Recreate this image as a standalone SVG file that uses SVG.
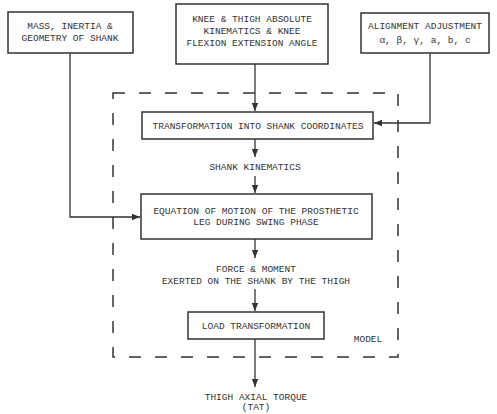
<svg xmlns="http://www.w3.org/2000/svg" width="497" height="414" viewBox="0 0 497 414">
<defs>
<marker id="ah" markerWidth="8" markerHeight="8" refX="8" refY="4" orient="auto" markerUnits="userSpaceOnUse"><path d="M0,0.8 L8,4 L0,7.2 Z" fill="#333"/></marker>
<style>
.box{fill:#fff;stroke:#333;stroke-width:1.5}
.t{font-family:"Liberation Mono","DejaVu Sans Mono",monospace;font-size:9.5px;fill:#333;text-anchor:middle}
.c{fill:none;stroke:#333;stroke-width:1.3}
.d{fill:none;stroke:#333;stroke-width:1.5;stroke-dasharray:12 14}
</style>
</defs>
<rect width="497" height="414" fill="#fff"/>
<g id="model-boundary">
<path class="d" d="M113,93 H398 V357 H113 Z"/>
<text class="t" x="368" y="342">MODEL</text>
</g>
<g id="connectors">
<path class="c" d="M70,53 V217 H140" marker-end="url(#ah)"/>
<path class="c" d="M255,64 V111" marker-end="url(#ah)"/>
<path class="c" d="M430,53 V123 H374" marker-end="url(#ah)"/>
<path class="c" d="M255,139 V157" marker-end="url(#ah)"/>
<path class="c" d="M255,176 V193" marker-end="url(#ah)"/>
<path class="c" d="M255,239 V258" marker-end="url(#ah)"/>
<path class="c" d="M255,289 V311" marker-end="url(#ah)"/>
<path class="c" d="M255,339 V387" marker-end="url(#ah)"/>
</g>
<g id="mass">
<rect class="box" x="8" y="12" width="125" height="41"/>
<text class="t" x="70" y="29">MASS, INERTIA &amp;</text>
<text class="t" x="70" y="41">GEOMETRY OF SHANK</text>
</g>
<g id="knee">
<rect class="box" x="176" y="4" width="152" height="60"/>
<text class="t" x="252" y="22">KNEE &amp; THIGH ABSOLUTE</text>
<text class="t" x="252" y="34">KINEMATICS &amp; KNEE</text>
<text class="t" x="252" y="46">FLEXION EXTENSION ANGLE</text>
</g>
<g id="alignment">
<rect class="box" x="361" y="13" width="128" height="40"/>
<text class="t" x="425" y="29">ALIGNMENT ADJUSTMENT</text>
<text class="t" x="425" y="43">α, β, γ, a, b, c</text>
</g>
<g id="transformation">
<rect class="box" x="142" y="112" width="231" height="27"/>
<text class="t" x="258" y="129">TRANSFORMATION INTO SHANK COORDINATES</text>
</g>
<g id="shank-kinematics">
<text class="t" x="255" y="170">SHANK KINEMATICS</text>
</g>
<g id="equation">
<rect class="box" x="141" y="194" width="231" height="45"/>
<text class="t" x="256" y="214">EQUATION OF MOTION OF THE PROSTHETIC</text>
<text class="t" x="256" y="225">LEG DURING SWING PHASE</text>
</g>
<g id="force-moment">
<text class="t" x="256" y="272">FORCE &amp; MOMENT</text>
<text class="t" x="256" y="284">EXERTED ON THE SHANK BY THE THIGH</text>
</g>
<g id="load">
<rect class="box" x="188" y="312" width="136" height="27"/>
<text class="t" x="256" y="329">LOAD TRANSFORMATION</text>
</g>
<g id="tat">
<text class="t" x="256" y="400">THIGH AXIAL TORQUE</text>
<text class="t" x="256" y="410">(TAT)</text>
</g>
</svg>
